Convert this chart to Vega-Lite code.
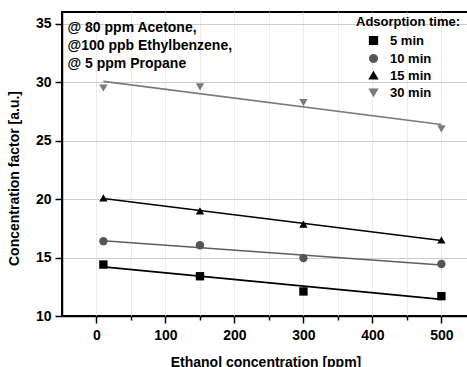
{
  "$schema": "https://vega.github.io/schema/vega-lite/v6.json",
  "width": 407,
  "height": 304,
  "autosize": {"type": "none"},
  "padding": {"left": 62, "top": 12, "right": 0, "bottom": 51},
  "background": "white",
  "config": {
    "font": "Liberation Sans",
    "view": {"stroke": "black", "strokeWidth": 2},
    "axis": {
      "domainColor": "black",
      "domainWidth": 1.5,
      "tickColor": "black",
      "tickWidth": 1.5,
      "labelFont": "Liberation Sans",
      "labelFontWeight": "bold",
      "labelFontSize": 14,
      "labelColor": "black",
      "labelOverlap": false,
      "titleFont": "Liberation Sans",
      "titleFontWeight": "bold",
      "titleFontSize": 14,
      "titleColor": "black"
    },
    "legend": {
      "titleFont": "Liberation Sans",
      "titleFontWeight": "bold",
      "titleFontSize": 13,
      "titleColor": "black",
      "labelFont": "Liberation Sans",
      "labelFontWeight": "bold",
      "labelFontSize": 13,
      "labelColor": "black"
    }
  },
  "datasets": {
    "measurements": [
      {"ethanol": 10, "factor": 14.4, "time": "5 min"},
      {"ethanol": 150, "factor": 13.4, "time": "5 min"},
      {"ethanol": 300, "factor": 12.1, "time": "5 min"},
      {"ethanol": 500, "factor": 11.7, "time": "5 min"},
      {"ethanol": 10, "factor": 16.4, "time": "10 min"},
      {"ethanol": 150, "factor": 16.05, "time": "10 min"},
      {"ethanol": 300, "factor": 14.95, "time": "10 min"},
      {"ethanol": 500, "factor": 14.45, "time": "10 min"},
      {"ethanol": 10, "factor": 20.1, "time": "15 min"},
      {"ethanol": 150, "factor": 19.0, "time": "15 min"},
      {"ethanol": 300, "factor": 17.85, "time": "15 min"},
      {"ethanol": 500, "factor": 16.5, "time": "15 min"},
      {"ethanol": 10, "factor": 29.5, "time": "30 min"},
      {"ethanol": 150, "factor": 29.6, "time": "30 min"},
      {"ethanol": 300, "factor": 28.25, "time": "30 min"},
      {"ethanol": 500, "factor": 26.0, "time": "30 min"}
    ],
    "notes": [
      {"text": ["@ 80 ppm Acetone,", "@100 ppb Ethylbenzene,", "@ 5 ppm Propane"]}
    ]
  },
  "layer": [
    {
      "data": {"name": "measurements"},
      "transform": [
        {"regression": "factor", "on": "ethanol", "groupby": ["time"], "extent": [10, 500]}
      ],
      "mark": {"type": "line", "strokeWidth": 1.6},
      "encoding": {
        "x": {
          "field": "ethanol",
          "type": "quantitative",
          "scale": {"domain": [-50, 540], "nice": false},
          "axis": {
            "values": [0, 50, 100, 150, 200, 250, 300, 350, 400, 450, 500],
            "labelExpr": "datum.value % 100 === 0 ? datum.label : ''",
            "tickSize": {"condition": {"test": "datum.value % 100 === 0", "value": 7}, "value": 4},
            "grid": true,
            "gridColor": "#ececec",
            "labelPadding": 5,
            "title": "Ethanol concentration [ppm]",
            "titlePadding": 13
          }
        },
        "y": {
          "field": "factor",
          "type": "quantitative",
          "scale": {"domain": [10, 36], "nice": false, "zero": false},
          "axis": {
            "values": [10, 12.5, 15, 17.5, 20, 22.5, 25, 27.5, 30, 32.5, 35],
            "labelExpr": "datum.value % 5 === 0 ? datum.label : ''",
            "tickSize": {"condition": {"test": "datum.value % 5 === 0", "value": 7}, "value": 4},
            "grid": true,
            "gridColor": {"condition": {"test": "datum.value % 5 === 0", "value": "#cccccc"}, "value": "#f2f2f2"},
            "labelPadding": 4,
            "title": "Concentration factor [a.u.]",
            "titlePadding": 14,
            "titleY": 166
          }
        },
        "stroke": {
          "field": "time",
          "type": "nominal",
          "scale": {
            "domain": ["5 min", "10 min", "15 min", "30 min"],
            "range": ["#000000", "#5e5e5e", "#000000", "#7a7a7a"]
          }
        }
      }
    },
    {
      "data": {"name": "measurements"},
      "mark": {"type": "point", "filled": true, "size": 70, "opacity": 1},
      "encoding": {
        "x": {"field": "ethanol", "type": "quantitative"},
        "y": {"field": "factor", "type": "quantitative"},
        "color": {
          "field": "time",
          "type": "nominal",
          "scale": {
            "domain": ["5 min", "10 min", "15 min", "30 min"],
            "range": ["#000000", "#555555", "#000000", "#7a7a7a"]
          },
          "legend": {
            "title": "Adsorption time:",
            "orient": "none",
            "legendX": 294,
            "legendY": 4,
            "symbolOffset": 11,
            "rowPadding": 3,
            "symbolSize": 60,
            "labelOffset": 10
          }
        },
        "shape": {
          "field": "time",
          "type": "nominal",
          "scale": {
            "domain": ["5 min", "10 min", "15 min", "30 min"],
            "range": ["square", "circle", "triangle-up", "triangle-down"]
          }
        }
      }
    },
    {
      "data": {"name": "notes"},
      "mark": {
        "type": "text",
        "align": "left",
        "baseline": "top",
        "fontWeight": "bold",
        "fontSize": 14,
        "lineHeight": 18,
        "color": "black"
      },
      "encoding": {
        "x": {"datum": -42},
        "y": {"datum": 35.25},
        "text": {"field": "text"}
      }
    }
  ]
}
